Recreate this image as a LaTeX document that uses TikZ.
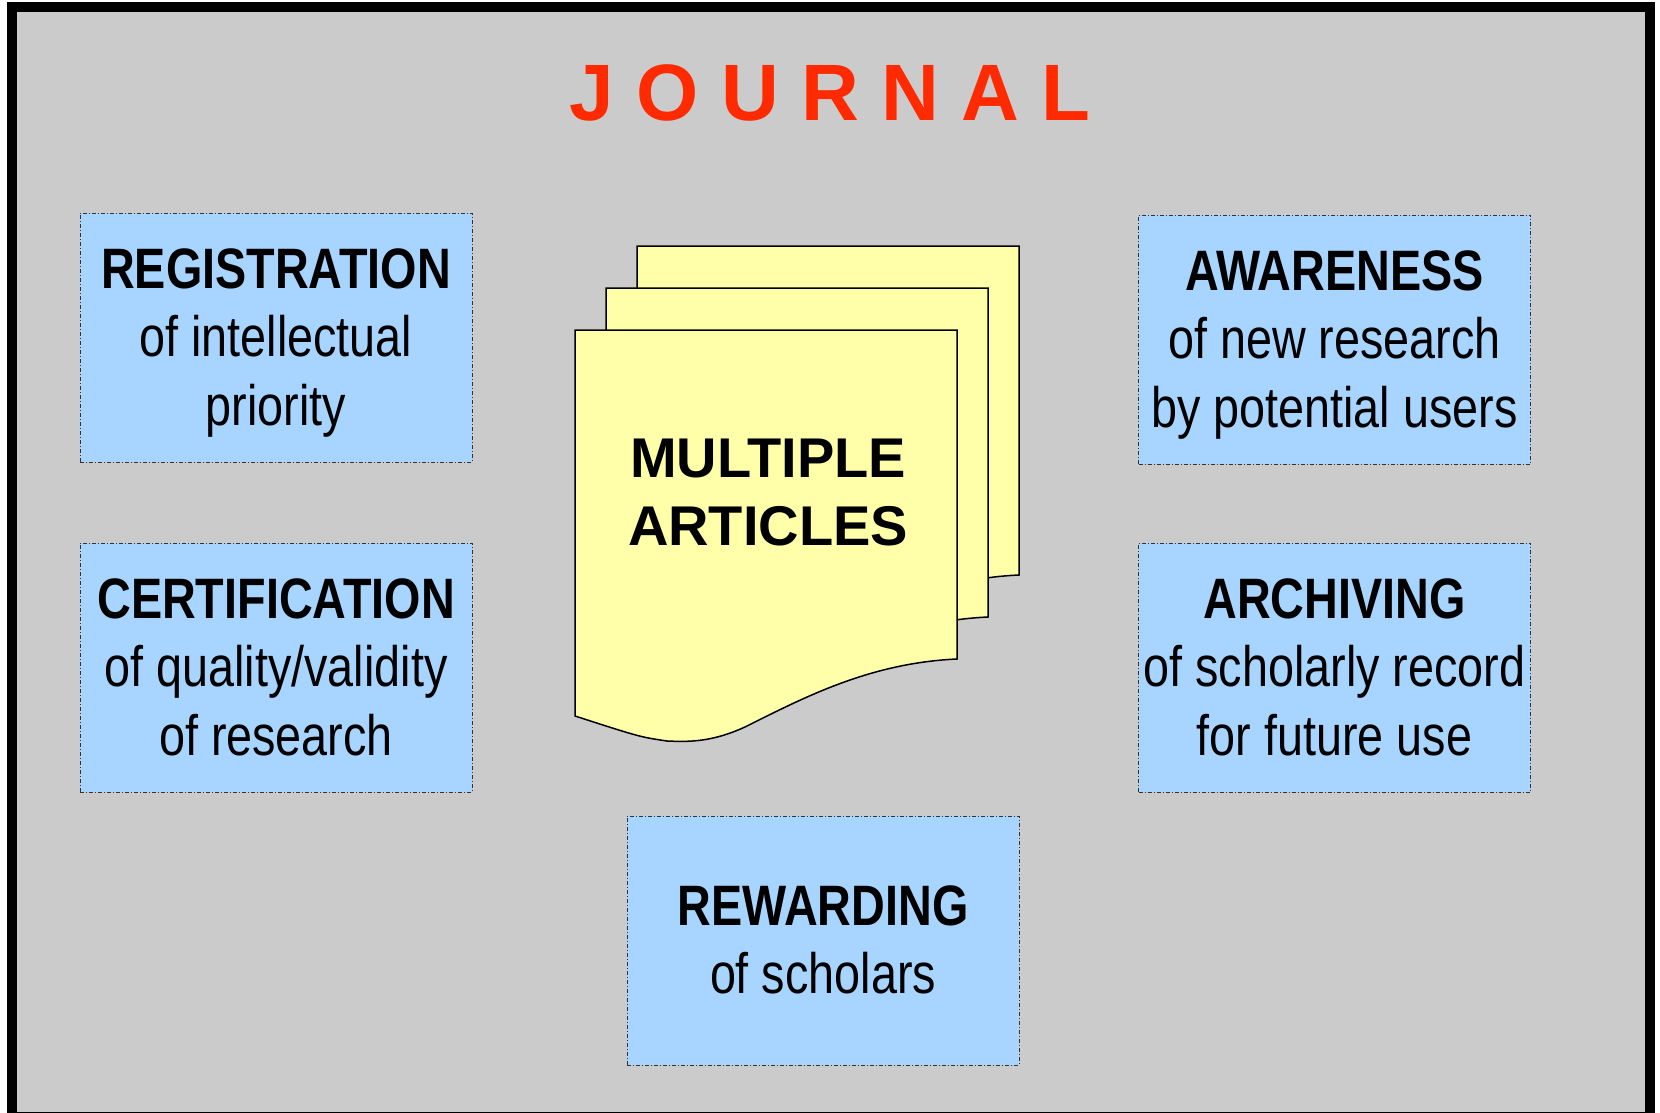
\documentclass[tikz,border=0pt]{standalone}
\usepackage{fontspec}
\setmainfont{Liberation Sans}
\newfontfamily\narrowfont[FakeStretch=0.82]{Liberation Sans}
\definecolor{bgray}{HTML}{CBCBCB}
\definecolor{boxblue}{HTML}{A8D5FF}
\definecolor{pageyellow}{HTML}{FFFFAA}
\definecolor{titlered}{HTML}{FF2A00}
\definecolor{edgegray}{HTML}{333333}
\newcommand{\artpagepath}{(575,330) -- (957,330) -- (957,659) .. controls (870,663) and (805,697) .. (745,727) .. controls (712,742) and (690,742) .. (667,741) .. controls (640,737) .. (575,716) -- cycle}
\begin{document}
\begin{tikzpicture}[x=1pt,y=-1pt,
  rolebox/.style={draw=edgegray, line width=1pt, dash pattern=on 4pt off 2pt on 1pt off 2pt,
    fill=boxblue, minimum width=392pt, minimum height=249pt, inner sep=0pt},
  roletext/.style={anchor=north, inner sep=0pt, align=center,
    font=\narrowfont\fontsize{57}{68.5}\selectfont},
  artpage/.style={draw=black, line width=1.5pt, fill=pageyellow, line join=miter},
  bigtext/.style={inner sep=0pt, align=center, font=\bfseries\fontsize{56}{68}\selectfont}]
\useasboundingbox (0,0) rectangle (1660,1113);
\fill[white] (0,0) rectangle (1660,1113);
\draw[line width=10pt, fill=bgray] (12,7.5) rectangle (1650,1117);
% title
\node[inner sep=0pt, anchor=base, text=titlered, font=\bfseries\fontsize{80}{90}\selectfont] (title) at (830,121) {J O U R N A L};
% stacked article pages
\draw[artpage, shift={(62,-84)}] \artpagepath;
\draw[artpage, shift={(31,-42)}] \artpagepath;
\draw[artpage] \artpagepath;
\node[bigtext, anchor=north] (articles) at (768,439) {MULTIPLE\\ARTICLES};
% role boxes
\node[rolebox] (reg) at (276,337.5) {};
\node[roletext] (regtxt) at (276,248) {{\bfseries REGISTRATION}\\of intellectual\\priority};
\node[rolebox] (cert) at (276,667.5) {};
\node[roletext] (certtxt) at (276,578) {{\bfseries CERTIFICATION}\\of quality/validity\\of research};
\node[rolebox] (aware) at (1334.5,339.5) {};
\node[roletext] (awaretxt) at (1334.5,250) {{\bfseries AWARENESS}\\of new research\\by potential users};
\node[rolebox] (arch) at (1334.5,667.5) {};
\node[roletext] (archtxt) at (1334.5,578) {{\bfseries ARCHIVING}\\of scholarly record\\for future use};
\node[rolebox] (rew) at (823,940.5) {};
\node[roletext] (rewtxt) at (823,885) {{\bfseries REWARDING}\\of scholars};
\end{tikzpicture}
\end{document}
